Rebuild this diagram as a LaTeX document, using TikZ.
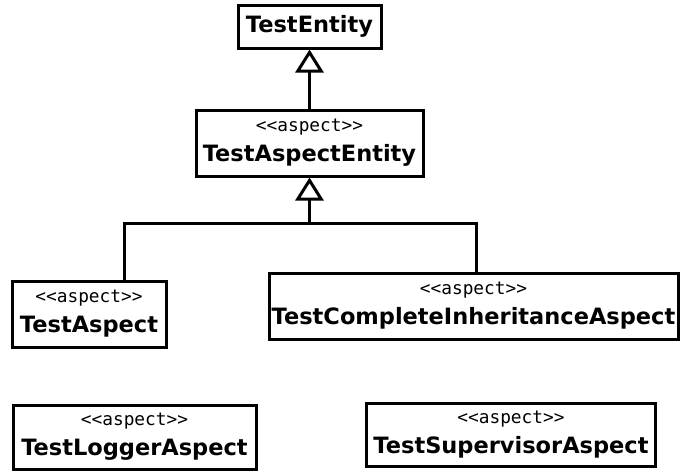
\documentclass[tikz,border=0pt]{standalone}
\usepackage{fontspec}
\setmainfont{DejaVu Sans}
\newfontfamily\stereofont{DejaVu Sans Mono}
\usetikzlibrary{arrows.meta,positioning}
\tikzset{
  classbox/.style={draw, line width=3pt, fill=white, inner sep=0pt, align=center,
    font=\fontsize{22.5}{30}\selectfont\bfseries},
  inherit/.style={-{Triangle[open, length=23pt, width=28pt, line width=3pt]}},
  link/.style={line width=3pt},
}
\newcommand{\stereo}[1]{{\stereofont\fontsize{17.8}{30}\selectfont\mdseries #1}}
\begin{document}
\begin{tikzpicture}[x=1pt,y=-1pt]
  \useasboundingbox (0,0) rectangle (680,472);
  % classes
  \node[classbox, minimum width=143pt, minimum height=43pt] (te) at (309.5,26.5) {TestEntity};
  \node[classbox, minimum width=227pt, minimum height=66pt] (tae) at (309.5,143)
    {\stereo{<<aspect>>}\\TestAspectEntity};
  \node[classbox, minimum width=154pt, minimum height=66pt] (ta) at (89,314)
    {\stereo{<<aspect>>}\\TestAspect};
  \node[classbox, minimum width=409pt, minimum height=66pt] (tcia) at (473.5,306)
    {\stereo{<<aspect>>}\\TestCompleteInheritanceAspect};
  \node[classbox, minimum width=243pt, minimum height=64pt] (tla) at (134.5,437)
    {\stereo{<<aspect>>}\\TestLoggerAspect};
  \node[classbox, minimum width=289pt, minimum height=63pt] (tsa) at (511,434.5)
    {\stereo{<<aspect>>}\\TestSupervisorAspect};
  % generalisations
  \coordinate (fork) at (309.5,223);
  \draw[link, inherit] (tae.north) -- (te.south);
  \draw[link, inherit] ([xshift=35pt]ta.north) |- (fork) -- (tae.south);
  \draw[link] ([xshift=2.5pt]tcia.north) |- (fork);
\end{tikzpicture}
\end{document}
